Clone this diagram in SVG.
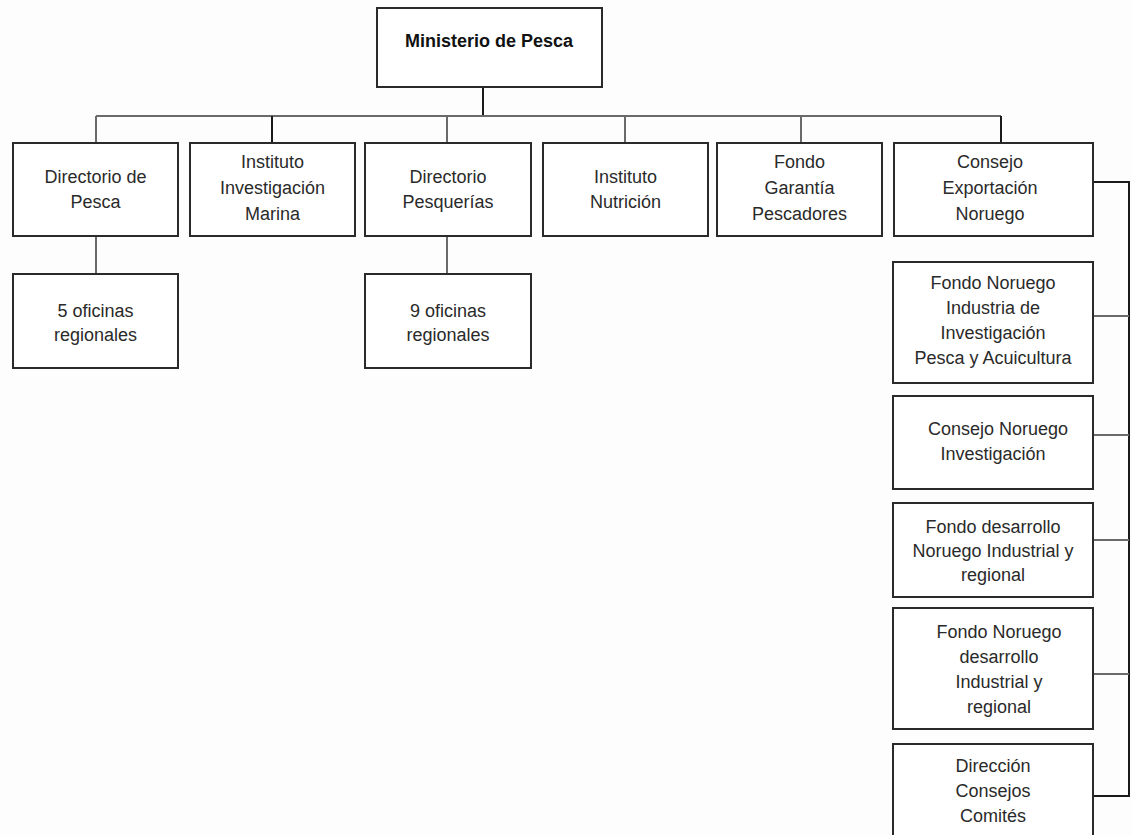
<svg xmlns="http://www.w3.org/2000/svg" width="1132" height="835" viewBox="0 0 1132 835">
<style>
.box{fill:#fff;stroke:#2a2a2a;stroke-width:2}
.t{font-family:"Liberation Sans",Arial,sans-serif;font-size:18px;fill:#2a2a2a;text-anchor:middle}
.b{font-weight:bold;fill:#111}
.c{fill:none;stroke:#6a6a6a;stroke-width:2}
.k{fill:none;stroke:#1a1a1a;stroke-width:2}
</style>
<rect width="1132" height="835" fill="#fdfdfd"/>
<g id="connectors">
<line class="k" x1="483" y1="87" x2="483" y2="116"/>
<line class="c" x1="96" y1="116" x2="1001" y2="116"/>
<line class="c" x1="96" y1="116" x2="96" y2="143"/>
<line class="k" x1="272" y1="116" x2="272" y2="143"/>
<line class="c" x1="447" y1="116" x2="447" y2="143"/>
<line class="c" x1="625" y1="116" x2="625" y2="143"/>
<line class="c" x1="801" y1="116" x2="801" y2="143"/>
<line class="k" x1="1001" y1="116" x2="1001" y2="143"/>
<line class="c" x1="96" y1="236" x2="96" y2="274"/>
<line class="c" x1="447" y1="236" x2="447" y2="274"/>
<path class="k" d="M1093 182 H1129 V796 H1093"/>
<line class="c" x1="1093" y1="316" x2="1129" y2="316"/>
<line class="c" x1="1093" y1="435" x2="1129" y2="435"/>
<line class="c" x1="1093" y1="540" x2="1129" y2="540"/>
<line class="c" x1="1093" y1="674" x2="1129" y2="674"/>
</g>
<g id="n-ministerio"><rect class="box" x="377" y="8" width="225" height="79"/><text class="t b" x="489" y="47">Ministerio de Pesca</text></g>
<g id="n-dirpesca"><rect class="box" x="13" y="143" width="165" height="93"/><text class="t" x="95.5" y="183">Directorio de</text><text class="t" x="95.5" y="208">Pesca</text></g>
<g id="n-instmarina"><rect class="box" x="190" y="143" width="165" height="93"/><text class="t" x="272.5" y="168">Instituto</text><text class="t" x="272.5" y="194">Investigación</text><text class="t" x="272.5" y="220">Marina</text></g>
<g id="n-dirpesq"><rect class="box" x="365" y="143" width="166" height="93"/><text class="t" x="448" y="183">Directorio</text><text class="t" x="448" y="208">Pesquerías</text></g>
<g id="n-instnut"><rect class="box" x="543" y="143" width="165" height="93"/><text class="t" x="625.5" y="183" fill="#444">Instituto</text><text class="t" x="625.5" y="208">Nutrición</text></g>
<g id="n-fondogar"><rect class="box" x="717" y="143" width="165" height="93"/><text class="t" x="799.5" y="168">Fondo</text><text class="t" x="799.5" y="194">Garantía</text><text class="t" x="799.5" y="220">Pescadores</text></g>
<g id="n-consejoexp"><rect class="box" x="894" y="143" width="199" height="93"/><text class="t" x="990" y="168">Consejo</text><text class="t" x="990" y="194">Exportación</text><text class="t" x="990" y="220">Noruego</text></g>
<g id="n-5ofi"><rect class="box" x="13" y="274" width="165" height="94"/><text class="t" x="95.5" y="317">5 oficinas</text><text class="t" x="95.5" y="341">regionales</text></g>
<g id="n-9ofi"><rect class="box" x="365" y="274" width="166" height="94"/><text class="t" x="448" y="317">9 oficinas</text><text class="t" x="448" y="341">regionales</text></g>
<g id="n-fondoinv"><rect class="box" x="893" y="262" width="200" height="121"/><text class="t" x="993" y="289">Fondo Noruego</text><text class="t" x="993" y="314">Industria de</text><text class="t" x="993" y="339">Investigación</text><text class="t" x="993" y="364">Pesca y Acuicultura</text></g>
<g id="n-consejoinv"><rect class="box" x="893" y="396" width="200" height="93"/><text class="t" x="998" y="435" fill="#555">Consejo Noruego</text><text class="t" x="993" y="460">Investigación</text></g>
<g id="n-fondodes1"><rect class="box" x="893" y="503" width="200" height="94"/><text class="t" x="993" y="533">Fondo desarrollo</text><text class="t" x="993" y="557">Noruego Industrial y</text><text class="t" x="993" y="581">regional</text></g>
<g id="n-fondodes2"><rect class="box" x="893" y="608" width="200" height="121"/><text class="t" x="999" y="638">Fondo Noruego</text><text class="t" x="999" y="663">desarrollo</text><text class="t" x="999" y="688">Industrial y</text><text class="t" x="999" y="713">regional</text></g>
<g id="n-direccion"><rect class="box" x="893" y="744" width="200" height="96"/><text class="t" x="993" y="772">Dirección</text><text class="t" x="993" y="797">Consejos</text><text class="t" x="993" y="822">Comités</text></g>
</svg>
